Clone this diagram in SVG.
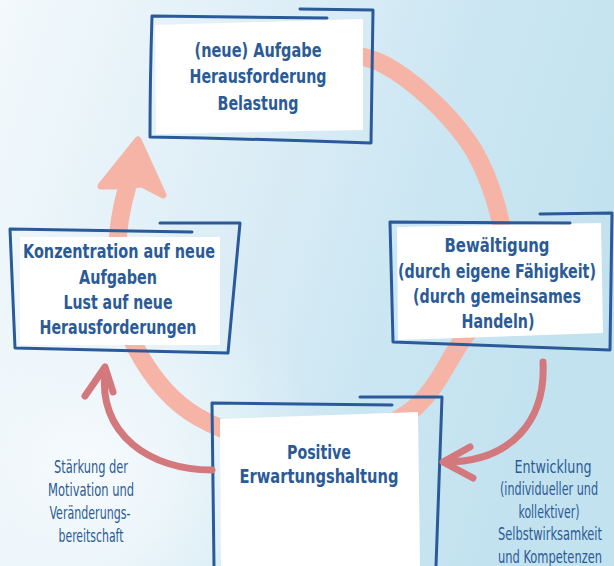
<svg xmlns="http://www.w3.org/2000/svg" width="614" height="566" viewBox="0 0 614 566">
  <defs>
    <linearGradient id="bg" x1="0" y1="0" x2="1" y2="0.3">
      <stop offset="0" stop-color="#f3f9fc"/>
      <stop offset="0.45" stop-color="#dcedf6"/>
      <stop offset="0.75" stop-color="#cae6f2"/>
      <stop offset="1" stop-color="#c3e2ef"/>
    </linearGradient>
    <radialGradient id="glow" cx="90" cy="470" r="230" gradientUnits="userSpaceOnUse">
      <stop offset="0" stop-color="#f7fbfd" stop-opacity="0.95"/>
      <stop offset="1" stop-color="#f7fbfd" stop-opacity="0"/>
    </radialGradient>
    <style>
      .frame { fill: none; stroke: #2a5a99; stroke-width: 3; stroke-linejoin: round; stroke-linecap: round; }
      .card { fill: #ffffff; }
      .bold { font-family: "Liberation Sans Narrow", "DejaVu Sans Condensed", "Liberation Sans", sans-serif; font-weight: bold; font-size: 20px; fill: #2b5b97; text-anchor: middle; }
      .label { font-family: "Liberation Sans Narrow", "DejaVu Sans Condensed", "Liberation Sans", sans-serif; font-size: 17px; fill: #2b5b97; text-anchor: middle; }
      .cycle { fill: none; stroke: #f5b4a6; stroke-width: 18; stroke-linecap: round; }
      .red { fill: none; stroke: #d3787d; stroke-width: 7; stroke-linecap: round; stroke-linejoin: round; }
    </style>
  </defs>

  <rect x="0" y="0" width="614" height="566" fill="url(#bg)"/>
  <rect x="0" y="0" width="614" height="566" fill="url(#glow)"/>

  <g id="connectors">
    <path class="cycle" d="M 300 50 C 314 52.5, 357 50, 385 65 C 413 80, 447 112, 467 140 C 487 168, 499 209, 503 235 C 507 261, 497 277, 490 295 C 483 313, 475 322, 461 342 C 447 362, 434 395, 408 413 C 382 431, 340 448, 305 448 C 270 448, 226 433, 198 417 C 170 401, 150 374, 137 350 C 124 326, 121 295, 118 270 C 115 245, 120 212, 127 188"/>
    <polygon points="138,140 163,195 142,184 115,186 101,186" fill="#f5b4a6" stroke="#f5b4a6" stroke-width="7" stroke-linejoin="round"/>
  </g>

  <g id="node-aufgabe">
    <polygon class="card" points="155,25 363,19 363,130 156,134"/>
    <path class="frame" d="M 327 18 L 152 16 Q 150 80 150 137 Q 260 139 371 143 L 373 10 L 300 9"/>
    <text class="bold" x="258" y="57" textLength="127" lengthAdjust="spacingAndGlyphs">(neue) Aufgabe</text>
    <text class="bold" x="258" y="83" textLength="137" lengthAdjust="spacingAndGlyphs">Herausforderung</text>
    <text class="bold" x="258" y="110" textLength="81" lengthAdjust="spacingAndGlyphs">Belastung</text>
  </g>

  <g id="node-konzentration">
    <polygon class="card" points="20,237 220,237 220,345 20,345"/>
    <path class="frame" d="M 192 232 L 10 229 L 15 348 L 228 353 L 240 223 L 160 223"/>
    <text class="bold" x="119" y="258" textLength="192" lengthAdjust="spacingAndGlyphs">Konzentration auf neue</text>
    <text class="bold" x="118" y="284" textLength="78" lengthAdjust="spacingAndGlyphs">Aufgaben</text>
    <text class="bold" x="118" y="309" textLength="109" lengthAdjust="spacingAndGlyphs">Lust auf neue</text>
    <text class="bold" x="118" y="334" textLength="157" lengthAdjust="spacingAndGlyphs">Herausforderungen</text>
  </g>

  <g id="node-bewaeltigung">
    <polygon class="card" points="397,227 601,223 603,333 398,340"/>
    <path class="frame" d="M 570 223 L 390 222 L 393 342 L 610 350 L 612 213 L 540 214"/>
    <text class="bold" x="497" y="252" textLength="105" lengthAdjust="spacingAndGlyphs">Bewältigung</text>
    <text class="bold" x="497" y="278" textLength="198" lengthAdjust="spacingAndGlyphs">(durch eigene Fähigkeit)</text>
    <text class="bold" x="497" y="303" textLength="168" lengthAdjust="spacingAndGlyphs">(durch gemeinsames</text>
    <text class="bold" x="498" y="328" textLength="73" lengthAdjust="spacingAndGlyphs">Handeln)</text>
  </g>

  <g id="node-erwartung">
    <polygon class="card" points="220,419 418,412 420,566 221,566"/>
    <path class="frame" d="M 392 405 L 212 403 L 214 566 M 436 566 L 442 397 L 360 397"/>
    <text class="bold" x="319" y="459" textLength="64" lengthAdjust="spacingAndGlyphs">Positive</text>
    <text class="bold" x="319" y="483" textLength="159" lengthAdjust="spacingAndGlyphs">Erwartungshaltung</text>
  </g>

  <g id="arrow-left">
    <path class="red" d="M 212 470 C 150 470, 98 435, 105 370"/>
    <path class="red" d="M 85 396 L 105 367 L 113 392"/>
  </g>
  <g id="arrow-right">
    <path class="red" d="M 543 362 C 546 420, 512 462, 445 462"/>
    <path class="red" d="M 470 447 L 443 462 L 473 478"/>
  </g>

  <g id="label-staerkung">
    <text class="label" x="91" y="473" textLength="74" lengthAdjust="spacingAndGlyphs">Stärkung der</text>
    <text class="label" x="91" y="496" textLength="86" lengthAdjust="spacingAndGlyphs">Motivation und</text>
    <text class="label" x="90" y="519" textLength="81" lengthAdjust="spacingAndGlyphs">Veränderungs-</text>
    <text class="label" x="91" y="542" textLength="65" lengthAdjust="spacingAndGlyphs">bereitschaft</text>
  </g>

  <g id="label-entwicklung">
    <text class="label" x="553" y="473" textLength="77" lengthAdjust="spacingAndGlyphs">Entwicklung</text>
    <text class="label" x="549" y="495" textLength="98" lengthAdjust="spacingAndGlyphs">(individueller und</text>
    <text class="label" x="549" y="518" textLength="61" lengthAdjust="spacingAndGlyphs">kollektiver)</text>
    <text class="label" x="550" y="540" textLength="104" lengthAdjust="spacingAndGlyphs">Selbstwirksamkeit</text>
    <text class="label" x="550" y="563" textLength="104" lengthAdjust="spacingAndGlyphs">und Kompetenzen</text>
  </g>
</svg>
